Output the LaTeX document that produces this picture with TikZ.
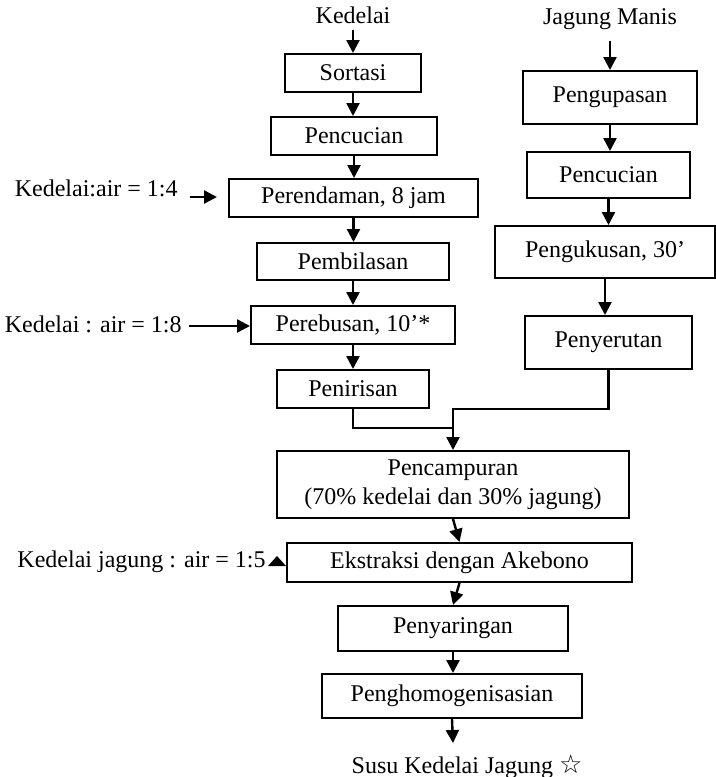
\documentclass[tikz,border=0pt]{standalone}
\usepackage{fontspec}
\setmainfont{Liberation Serif}
\newfontfamily\starfont{DejaVu Sans}
\usetikzlibrary{arrows.meta, positioning}

\begin{document}
\begin{tikzpicture}[x=0.5pt, y=-0.5pt,
        font=\fontsize{12}{14.5}\selectfont,
        stepbox/.style={draw, line width=1pt, inner sep=2pt, align=center},
        flow/.style={line width=1.2pt, -{Triangle[length=6.5pt, width=6.5pt]}},
        link/.style={line width=1.2pt},
        lbl/.style={inner sep=0pt}]
        \useasboundingbox (0,0) rectangle (716,777);

        % Kedelai column
        \node[lbl, anchor=base] (kedelai) at (353,23) {Kedelai};
        \node[stepbox, minimum width=68pt, minimum height=19pt] (sortasi) at (353,73) {Sortasi};
        \node[stepbox, minimum width=83pt, minimum height=19pt] (pencucianA) at (354,136) {Pencucian};
        \node[stepbox, minimum width=124.5pt, minimum height=19pt] (perendaman) at (353.5,198) {Perendaman, 8 jam};
        \node[stepbox, minimum width=96pt, minimum height=18.5pt] (pembilasan) at (353,261.5) {Pembilasan};
        \node[stepbox, minimum width=102pt, minimum height=19pt] (perebusan) at (353,325) {Perebusan, 10'*};
        \node[stepbox, minimum width=76pt, minimum height=19pt] (penirisan) at (353,389) {Penirisan};

        \draw[flow] ([yshift=-3pt]kedelai.south) -- (sortasi.north);
        \foreach \a/\b in {sortasi/pencucianA, pencucianA/perendaman, perendaman/pembilasan,
                pembilasan/perebusan, perebusan/penirisan} {
            \draw[flow] (\a.south) -- (\a.south |- \b.north);
        }

        % Water ratios
        \node[lbl, anchor=base east] (airA) at (178,196) {Kedelai:air = 1:4};
        \coordinate (inA) at (190,197);
        \draw[flow, shorten >=5.5pt] (inA) -- (inA -| perendaman.west);
        \node[lbl, anchor=base east] (airB) at (182,332) {Kedelai : air = 1:8};
        \coordinate (inB) at (189,326);
        \draw[flow] (inB) -- (inB -| perebusan.west);
        \node[lbl, anchor=base east] (airC) at (266,567) {Kedelai jagung : air = 1:5};
        \fill (268,566) -- (286,566) -- (277,556) -- cycle;

        % Jagung column
        \node[lbl, anchor=base] (jagung) at (610,24) {Jagung Manis};
        \node[stepbox, minimum width=87pt, minimum height=26.5pt] (pengupasan) at (610,97.5) {Pengupasan};
        \node[stepbox, minimum width=81.5pt, minimum height=23pt] (pencucianB) at (608.5,175) {Pencucian};
        \node[stepbox, minimum width=110pt, minimum height=26pt] (pengukusan) at (605,252) {Pengukusan, 30'};
        \node[stepbox, minimum width=83.5pt, minimum height=26.5pt] (penyerutan) at (608.5,342.5) {Penyerutan};

        \draw[flow] ([yshift=-5.5pt]jagung.south) -- (pengupasan.north);
        \foreach \a/\b in {pengupasan/pencucianB, pencucianB/pengukusan, pengukusan/penyerutan} {
            \draw[flow] (\a.south) -- (\a.south |- \b.north);
        }

        % Mixing and after
        \node[stepbox, minimum width=176pt, minimum height=33.5pt] (pencampuran) at (453,484.5)
            {Pencampuran\\(70\% kedelai dan 30\% jagung)};
        \node[stepbox, minimum width=172.5pt, minimum height=19.5pt] (ekstraksi) at (459.5,562.5) {Ekstraksi dengan Akebono};
        \node[stepbox, minimum width=115pt, minimum height=22.5pt] (penyaringan) at (453,628.5) {Penyaringan};
        \node[stepbox, minimum width=130pt, minimum height=22pt] (penghomog) at (452,696) {Penghomogenisasian};
        \node[lbl, anchor=base] (susu) at (467,773) {Susu Kedelai Jagung {\starfont\fontsize{13}{14}\selectfont ☆}};

        \coordinate (joinA) at (453,428);
        \coordinate (joinB) at (453,409);
        \draw[link] (penirisan.south) |- (joinA);
        \draw[flow] (penyerutan.south) |- (joinB) -- (pencampuran.north);
        \draw[flow] (pencampuran.south) -- (ekstraksi.north);
        \draw[flow] (ekstraksi.south) -- (penyaringan.north);
        \draw[flow] (penyaringan.south) -- (penyaringan.south |- penghomog.north);
        \coordinate (produk) at (453,743);
        \draw[flow] (penghomog.south) -- (produk);
    \end{tikzpicture}
\end{document}
